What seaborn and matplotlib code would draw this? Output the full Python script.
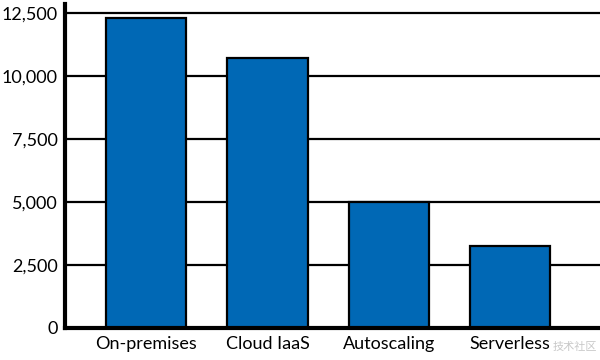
import matplotlib
matplotlib.use("Agg")
import matplotlib.pyplot as plt
import seaborn as sns
import pandas as pd

categories = ["On-premises", "Cloud IaaS", "Autoscaling", "Serverless"]
values = [12300, 10700, 5000, 3250]
yticks = [0, 2500, 5000, 7500, 10000, 12500]
ytick_labels = ["0", "2,500", "5,000", "7,500", "10,000", "12,500"]

sns.set_theme(style="white")
plt.rcParams["font.family"] = ["Lato", "DejaVu Sans"]

df = pd.DataFrame({"category": categories, "value": values})

fig = plt.figure(figsize=(6, 3.6), dpi=100)
ax = fig.add_axes([0.108, 0.089, 0.892, 0.9])

sns.barplot(data=df, x="category", y="value", color="#0068B5", saturation=1,
            width=0.66, edgecolor="black", linewidth=1.6, ax=ax, zorder=3)

ax.set_ylim(0, 12850)
ax.set_xlim(-0.67, 3.74)
ax.set_yticks(yticks)
ax.set_yticklabels(ytick_labels)
for y in yticks[1:]:
    ax.axhline(y, color="black", linewidth=1.6, zorder=1)
ax.set_xlabel("")
ax.set_ylabel("")
for s in ["top", "right"]:
    ax.spines[s].set_visible(False)
for s in ["left", "bottom"]:
    ax.spines[s].set_color("black")
    ax.spines[s].set_linewidth(3)
    ax.spines[s].set_zorder(4)
ax.tick_params(axis="both", length=0, labelsize=13, colors="black")
ax.tick_params(axis="y", pad=5)
ax.tick_params(axis="x", pad=6)

fig.text(0.995, 0.035, "技术社区", fontsize=8, color="#c8c8c8",
         family=["Noto Sans CJK SC"], ha="right", va="center")

fig.savefig("out.png", dpi=100)
